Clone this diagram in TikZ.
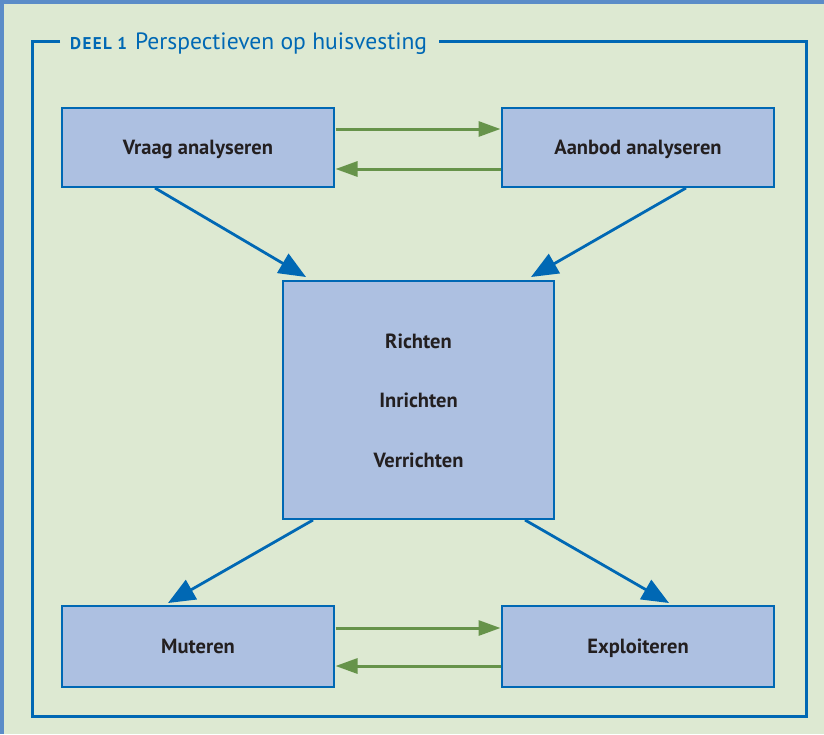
\documentclass[tikz,border=0pt]{standalone}
\usepackage{fontspec}
\setmainfont{PT Sans}
\usetikzlibrary{arrows.meta}
\definecolor{bgGreen}{HTML}{DDE9D2}
\definecolor{edgeBlue}{HTML}{5B8CC8}
\definecolor{frameBlue}{HTML}{0068B4}
\definecolor{boxFill}{HTML}{ADC0E1}
\definecolor{linkGreen}{HTML}{66934A}
\definecolor{inkDark}{HTML}{231F20}
\tikzset{
  x=1pt, y=-1pt,
  stage/.style={draw=frameBlue, line width=2.2pt, fill=boxFill},
  label/.style={font=\bfseries\fontsize{20.5}{24}\selectfont, text=inkDark,
    text height=14.5pt, text depth=0pt},
  flowarrow/.style={draw=frameBlue, line width=2.8pt, -{Triangle[length=27pt,width=22pt]}},
  loop/.style={draw=linkGreen, line width=3pt, -{Triangle[length=22pt,width=15pt]}},
}
\begin{document}
\begin{tikzpicture}
  % page background with the coloured edges
  \fill[bgGreen] (0,0) rectangle (824,734);
  \useasboundingbox (0,0) rectangle (824,734);
  \fill[edgeBlue] (0,0) rectangle (824,3.5);
  \fill[edgeBlue] (0,0) rectangle (3.5,734);

  % outer frame with a gap for the heading
  \draw[frameBlue, line width=3pt] (60,41) -- (32,41) -- (32,716) -- (806,716) -- (806,41) -- (439,41);
  \node[anchor=base west, inner sep=0pt, text=frameBlue] (title) at (70,49)
    {{\bfseries\fontsize{17}{18}\selectfont\addfontfeature{LetterSpace=8}DEEL 1}\hspace{8pt}{\fontsize{23.6}{26}\selectfont Perspectieven op huisvesting}};

  % stages
  \path[stage] (62,108) rectangle (334,187);
  \node[label] (vraag) at (198,147.5) {Vraag analyseren};
  \path[stage] (502,108) rectangle (774,187);
  \node[label] (aanbod) at (638,147.5) {Aanbod analyseren};
  \path[stage] (283,281) rectangle (554,519);
  \node[label] (richten) at (418.5,341) {Richten};
  \node[label] (inrichten) at (418.5,400) {Inrichten};
  \node[label] (verrichten) at (418.5,460) {Verrichten};
  \path[stage] (62,606) rectangle (334,687);
  \node[label] (muteren) at (198,646.5) {Muteren};
  \path[stage] (502,606) rectangle (774,687);
  \node[label] (exploiteren) at (638,646.5) {Exploiteren};

  % anchor points on the box edges
  \coordinate (vR1) at (335.5,129);  \coordinate (aL1) at (500.5,129);
  \coordinate (aL2) at (500.5,169);  \coordinate (vR2) at (335.5,169);
  \coordinate (mR1) at (335.5,628);  \coordinate (eL1) at (500.5,628);
  \coordinate (eL2) at (500.5,666);  \coordinate (mR2) at (335.5,666);
  \coordinate (vB) at (155,188);     \coordinate (cTL) at (306,277);
  \coordinate (aB) at (686,188);     \coordinate (cTR) at (531,277);
  \coordinate (cBL) at (313,520);    \coordinate (mT) at (168,603);
  \coordinate (cBR) at (525,520);    \coordinate (eT) at (669,603);

  % exchange arrows
  \draw[loop] (vR1) -- (aL1);
  \draw[loop] (aL2) -- (vR2);
  \draw[loop] (mR1) -- (eL1);
  \draw[loop] (eL2) -- (mR2);

  % flow arrows
  \draw[flowarrow] (vB) -- (cTL);
  \draw[flowarrow] (aB) -- (cTR);
  \draw[flowarrow] (cBL) -- (mT);
  \draw[flowarrow] (cBR) -- (eT);
\end{tikzpicture}
\end{document}
